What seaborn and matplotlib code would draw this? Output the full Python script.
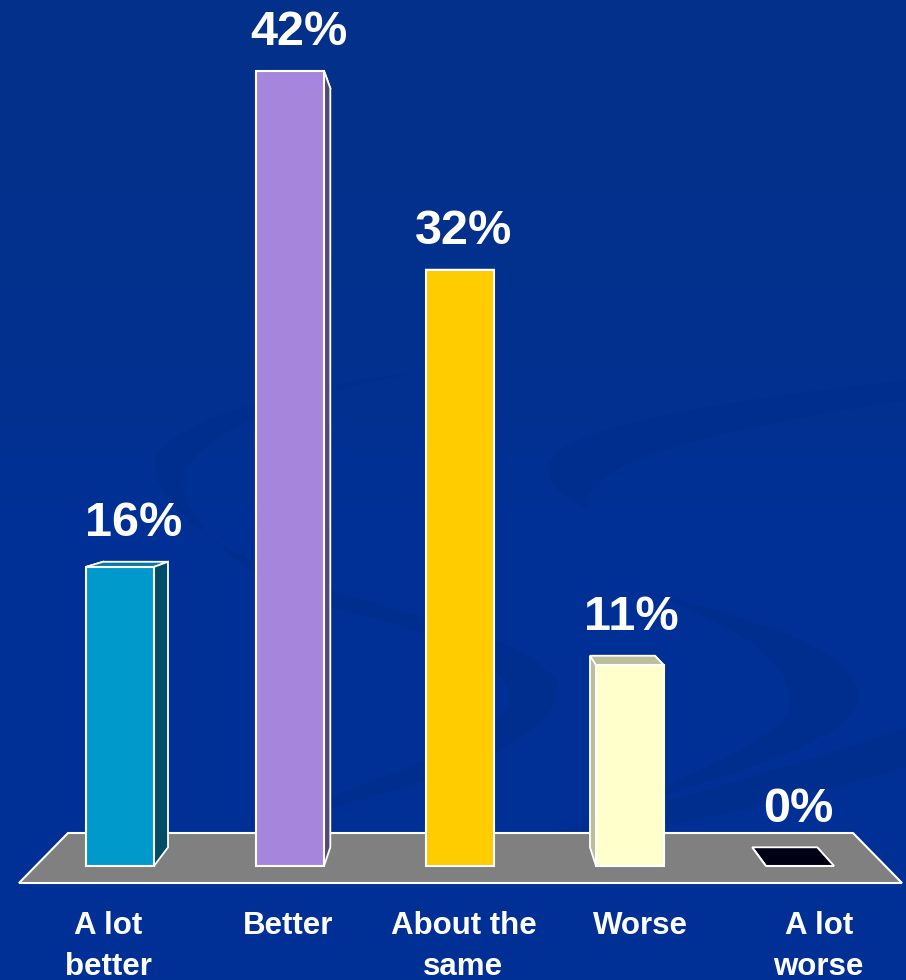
import numpy as np
import matplotlib
matplotlib.use("Agg")
import matplotlib.pyplot as plt
import seaborn as sns
from matplotlib.path import Path
from matplotlib.patches import PathPatch, Polygon

# Data
categories = ["A lot\nbetter", "Better", "About the\nsame", "Worse", "A lot\nworse"]
values = [15.8, 42.0, 31.5, 10.6, 0.0]
value_labels = ["16%", "42%", "32%", "11%", "0%"]
label_x = [0.08, 1.05, 2.02, 3.01, 3.99]
tick_x = [-0.07, 0.99, 2.02, 3.06, 4.11]

front_colors = ["#0099CC", "#A686DC", "#FFCC00", "#FFFFCC", "#000014"]
side_colors = ["#004C66", "#54487A", "#806600", "#BDBD99", "#000014"]
top_colors = ["#0A7A9C", "#8068AA", "#CCA300", "#BDBD99", "#000014"]

# Perspective of the fake 3D bars (data units)
VP_X, VP_Y, DEPTH = 2.018, 21.8, 0.0453
BAR_W = 0.4
W, H = 906, 980


def back(x, y):
    return x + DEPTH * (VP_X - x), y + DEPTH * (VP_Y - y)


sns.set_theme(style="white")
plt.rcParams["font.family"] = ["Liberation Sans", "DejaVu Sans"]
plt.rcParams["font.weight"] = "bold"

fig = plt.figure(figsize=(W / 100, H / 100), dpi=100)

# Slide background: blue gradient and the dark swirls
bg = fig.add_axes([0, 0, 1, 1])
bg.set_xlim(0, W)
bg.set_ylim(H, 0)
bg.axis("off")
grad = np.array([[0.0], [0.35], [1.0]])
cmap = matplotlib.colors.LinearSegmentedColormap.from_list("bg", ["#03308A", "#003097", "#003096"])
bg.imshow(grad, aspect="auto", cmap=cmap, extent=[0, W, H, 0], interpolation="bicubic")

C4 = Path.CURVE4
MT, CP = Path.MOVETO, Path.CLOSEPOLY
swirls = [
    # upper left loop and its tail
    [(MT, (420, 372)), (C4, (300, 385)), (C4, (170, 420)), (C4, (155, 460)),
     (C4, (150, 510)), (C4, (240, 565)), (C4, (330, 590)),
     (C4, (430, 620)), (C4, (530, 640)), (C4, (555, 680)),
     (C4, (575, 740)), (C4, (420, 790)), (C4, (240, 830)),
     (C4, (400, 770)), (C4, (500, 740)), (C4, (510, 700)),
     (C4, (510, 650)), (C4, (400, 625)), (C4, (320, 605)),
     (C4, (240, 580)), (C4, (170, 510)), (C4, (185, 470)),
     (C4, (215, 420)), (C4, (320, 390)), (C4, (420, 372))],
    # right swirl
    [(MT, (906, 380)), (C4, (780, 395)), (C4, (560, 420)), (C4, (548, 465)),
     (C4, (548, 490)), (C4, (570, 500)), (C4, (590, 510)),
     (C4, (570, 480)), (C4, (640, 440)), (C4, (906, 400))],
    # lower right loop
    [(MT, (640, 590)), (C4, (760, 620)), (C4, (860, 650)), (C4, (858, 700)),
     (C4, (850, 745)), (C4, (720, 775)), (C4, (620, 810)),
     (C4, (710, 760)), (C4, (800, 735)), (C4, (790, 695)),
     (C4, (780, 650)), (C4, (720, 620)), (C4, (640, 590))],
    # bottom stripe
    [(MT, (906, 728)), (C4, (780, 770)), (C4, (640, 810)), (C4, (530, 838)),
     (C4, (650, 838)), (C4, (790, 800)), (C4, (906, 768))],
]
for swirl in swirls:
    codes = [c for c, _ in swirl] + [CP]
    pts = [p for _, p in swirl] + [swirl[0][1]]
    bg.add_patch(PathPatch(Path(pts, codes), fc="#002E8E", ec="none"))

# Chart axes: zero line at y=866 px, 18.93 px per percent
ax = fig.add_axes([35 / W, (H - 883) / H, 850 / W, 883 / H])
ax.patch.set_alpha(0)
sns.barplot(x=list(range(5)), y=values, hue=list(range(5)), palette=front_colors,
            order=list(range(5)), width=BAR_W, saturation=1, dodge=False, legend=False,
            edgecolor="white", linewidth=1.5, ax=ax, zorder=4)
ax.set_xlim(-0.5, 4.5)
ax.set_ylim(-17 / 18.93, 866 / 18.93)

# Gray floor
floor = Polygon([(-0.5 + (19 - 35) / 170, -17 / 18.93), (-0.5 + (902 - 35) / 170, -17 / 18.93),
                 (-0.5 + (853 - 35) / 170, 33 / 18.93), (-0.5 + (68 - 35) / 170, 33 / 18.93)],
                closed=True, fc="#808080", ec="white", lw=1.5, clip_on=False, zorder=1)
ax.add_patch(floor)

# Side and top faces, worked out from each value
for i, v in enumerate(values):
    x0, x1 = i - BAR_W / 2, i + BAR_W / 2
    bx0, by0 = back(x0, 0)
    bx1, _ = back(x1, 0)
    _, byt = back(x0, v)
    left = ([(x0, 0), (bx0, by0), (bx0, byt), (x0, v)], side_colors[i])
    right = ([(x1, 0), (bx1, by0), (bx1, byt), (x1, v)], side_colors[i])
    top = ([(x0, v), (bx0, byt), (bx1, byt), (x1, v)], top_colors[i])
    # hidden side first, outer side last so it sits over the top face
    faces = [left, top, right] if i < VP_X else [right, top, left]
    for pts, color in faces:
        ax.add_patch(Polygon(pts, closed=True, fc=color, ec="white", lw=1.3, zorder=3, clip_on=False))
    ax.annotate(value_labels[i], (label_x[i], max(v, byt)), xytext=(0, 18.5), textcoords="offset points",
                ha="center", va="baseline", color="white", fontsize=35, fontweight="bold", zorder=6)

ax.set_xticks(tick_x, categories)
ax.tick_params(axis="x", length=0, pad=20.5, labelsize=22.5, labelcolor="white")
for lab in ax.get_xticklabels():
    lab.set_fontweight("bold")
    lab.set_linespacing(1.45)
ax.set_yticks([])
ax.set_xlabel("")
ax.set_ylabel("")
sns.despine(ax=ax, left=True, bottom=True)

fig.savefig("out.png", dpi=100)
